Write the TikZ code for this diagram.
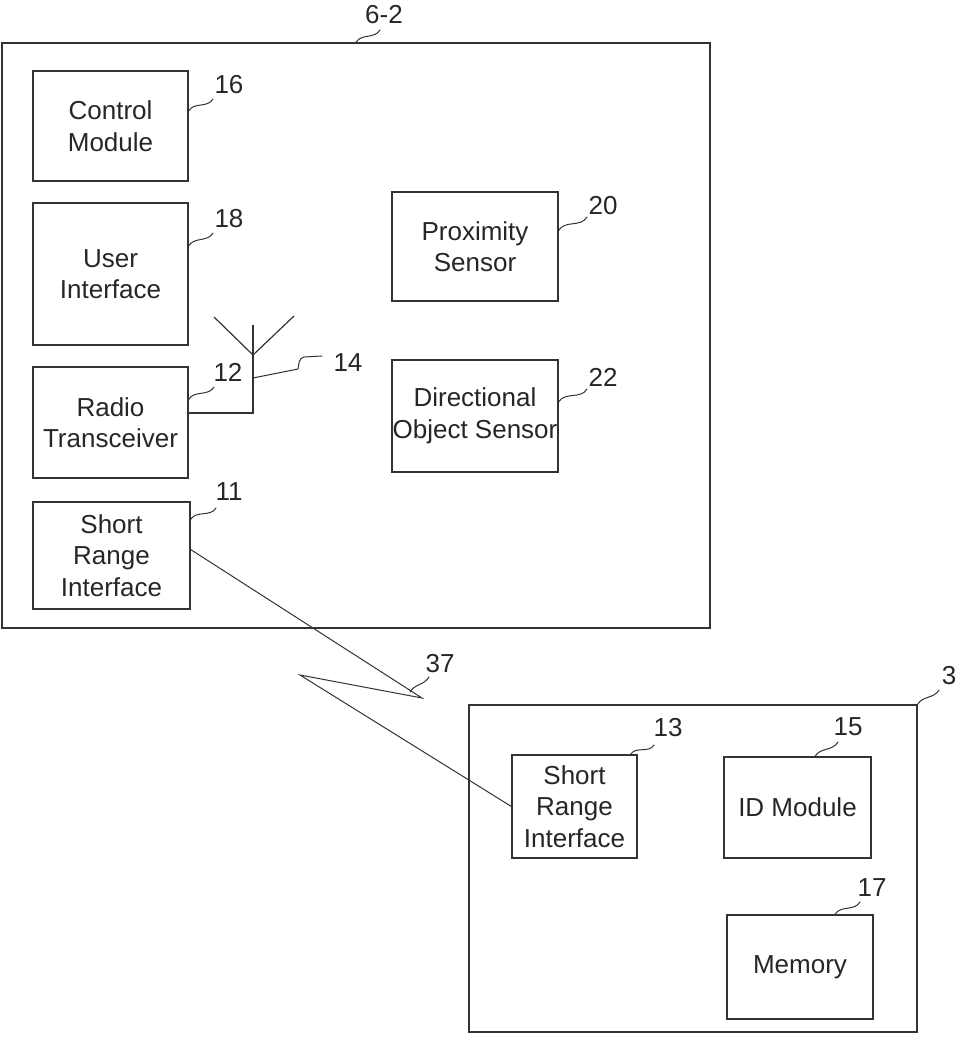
\documentclass[tikz,border=0pt]{standalone}
\usepackage{fontspec}
\setmainfont{Liberation Sans}
\begin{document}
\begin{tikzpicture}[x=1pt,y=-1pt,
  ln/.style={draw=black!80, line width=1.2pt},
  box/.style={ln, rectangle, inner sep=0pt, align=center, font=\fontsize{26}{31.5}\selectfont, text=black!85},
  num/.style={inner sep=0pt, font=\fontsize{26}{30}\selectfont, text=black!85},
  lead/.style={draw=black!80, line width=1pt, line cap=round}]
\useasboundingbox (0,0) rectangle (959,1047);
% outer boxes
\node[box, minimum width=708pt, minimum height=585pt] (outer) at (356,335.5) {};
\node[box, minimum width=448pt, minimum height=327pt] (box3) at (693,868.5) {};
% device 6-2 contents
\node[box, minimum width=155pt, minimum height=110pt] (cm) at (110.5,126) {Control\\Module};
\node[box, minimum width=155pt, minimum height=142pt] (ui) at (110.5,274) {User\\Interface};
\node[box, minimum width=155pt, minimum height=111pt] (rt) at (110.5,422.5) {Radio\\Transceiver};
\node[box, minimum width=157pt, minimum height=107pt] (sri11) at (111.5,555.5) {Short\\Range\\Interface};
\node[box, minimum width=166pt, minimum height=109pt] (ps) at (475,246.5) {Proximity\\Sensor};
\node[box, minimum width=166pt, minimum height=112pt] (dos) at (475,416) {Directional\\Object Sensor};
% device 3 contents
\node[box, minimum width=125pt, minimum height=103pt] (sri13) at (574.5,806.5) {Short\\Range\\Interface};
\node[box, minimum width=147pt, minimum height=101pt] (id) at (797.5,807.5) {ID Module};
\node[box, minimum width=146pt, minimum height=104pt] (mem) at (800,967) {Memory};
% antenna
\coordinate (mtop) at (253,325);
\coordinate (mj) at (253,355);
\coordinate (mbot) at (253,413);
\coordinate (armL) at (214,317);
\coordinate (armR) at (294,316);
\coordinate (m14) at (253,378);
\draw[ln] (rt.east |- mbot) -- (mbot) -- (mtop);
\draw[ln] (armL) -- (mj) -- (armR);
% wireless link
\coordinate (b1) at (422,698);
\coordinate (b2) at (300,675);
\draw[ln, line width=1pt] ([yshift=6pt]sri11.east) -- (b1) -- (b2) -- (sri13.west);
% labels
\node[num] (l62) at (384,15) {6-2};
\node[num] (l16) at (229,85) {16};
\node[num] (l18) at (229,219) {18};
\node[num] (l12) at (228,372) {12};
\node[num] (l14) at (348,363) {14};
\node[num] (l20) at (603,206) {20};
\node[num] (l22) at (603,377) {22};
\node[num] (l11) at (229,492) {11};
\node[num] (l37) at (440,664) {37};
\node[num] (l3) at (949,676) {3};
\node[num] (l13) at (668,728) {13};
\node[num] (l15) at (848,727) {15};
\node[num] (l17) at (872,888) {17};
% leaders
\draw[lead] ([shift={(-4,15)}]l62.center) to[out=-120,in=60] (outer.north);
\draw[lead] ([shift={(-16,14)}]l16.center) to[out=-120,in=60] ([yshift=15pt]cm.east);
\draw[lead] ([shift={(-16,14)}]l18.center) to[out=-120,in=60] ([yshift=28pt]ui.east);
\draw[lead] ([shift={(-14,15)}]l12.center) to[out=-120,in=60] ([yshift=23pt]rt.east);
\draw[lead] ([shift={(-26,-7)}]l14.center) -- ++(-18,1) to[out=190,in=80] ++(-6,12) -- (m14);
\draw[lead] ([shift={(-16,11)}]l20.center) to[out=-120,in=60] ([yshift=16pt]ps.east);
\draw[lead] ([shift={(-16,12)}]l22.center) to[out=-120,in=60] ([yshift=14pt]dos.east);
\draw[lead] ([shift={(-13,16)}]l11.center) to[out=-120,in=60] ([yshift=36pt]sri11.east);
\draw[lead] ([shift={(-11,13)}]l37.center) to[out=-120,in=60] ([shift={(-12,-6)}]b1);
\draw[lead] ([shift={(-10,14)}]l3.center) to[out=-120,in=60] (box3.north east);
\draw[lead] ([shift={(-14,17)}]l13.center) to[out=-120,in=60] ([xshift=-7pt]sri13.north east);
\draw[lead] ([shift={(-10,15)}]l15.center) to[out=-120,in=60] ([xshift=17.5pt]id.north);
\draw[lead] ([shift={(-12,14)}]l17.center) to[out=-120,in=60] ([xshift=35pt]mem.north);
\end{tikzpicture}
\end{document}
